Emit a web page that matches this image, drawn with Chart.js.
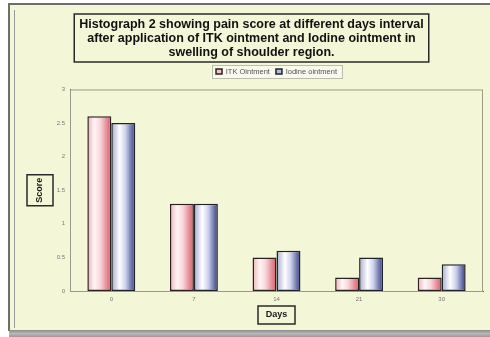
<!DOCTYPE html>
<html>
<head>
<meta charset="utf-8">
<script src="https://cdn.jsdelivr.net/npm/chart.js@4/dist/chart.umd.min.js"></script>
<style>
  html, body { margin: 0; padding: 0; background: #ffffff; }
  #wrap { width: 490px; height: 337px; position: relative; }
  canvas { display: block; }
</style>
</head>
<body>
<div id="wrap"><canvas id="chart" width="490" height="337"></canvas></div>
<script>
// Pain score by day after treatment
const days = ['0', '7', '14', '21', '30'];
const itkScores = [2.6, 1.3, 0.5, 0.2, 0.2];
const iodineScores = [2.5, 1.3, 0.6, 0.5, 0.4];
const seriesNames = ['ITK Ointment', 'Iodine ointment'];
const titleLines = [
  'Histograph 2 showing pain score at different days interval',
  'after application of ITK ointment and Iodine ointment in',
  'swelling of shoulder region.'
];
const yMin = 0, yMax = 3, yStep = 0.5;
const xTitle = 'Days';
const yTitle = 'Score';

const PAPER = '#f4f6d8';
const FONT = "'Liberation Sans', Arial, sans-serif";
Chart.defaults.font.family = FONT;

// vertical centre of the legend row (items sit at top + padding + half item height)
function legendRowCentre(lg) {
  const lab = lg.options.labels;
  const itemH = Math.max(lab.boxHeight, lab.font.size);
  return lg.top + lab.padding + itemH / 2;
}

// Page frame, paper colour and the legend's light panel
const framePlugin = {
  id: 'frame',
  beforeDraw(chart) {
    const { ctx, width, height } = chart;
    ctx.save();
    ctx.fillStyle = '#ffffff';
    ctx.fillRect(0, 0, width, height);
    ctx.fillStyle = PAPER;
    ctx.fillRect(9, 4, width - 9, height - 10);
    // outer frame
    ctx.strokeStyle = '#6e6e6e';
    ctx.lineWidth = 2;
    ctx.beginPath();
    ctx.moveTo(width, 4);
    ctx.lineTo(9, 4);
    ctx.lineTo(9, height - 6);
    ctx.stroke();
    ctx.strokeStyle = '#9a9a9a';
    ctx.lineWidth = 1;
    ctx.beginPath();
    ctx.moveTo(14.5, 10);
    ctx.lineTo(14.5, height - 9);
    ctx.stroke();
    // bottom band
    const g = ctx.createLinearGradient(0, height - 7, 0, height);
    g.addColorStop(0, '#8a8a8a');
    g.addColorStop(0.5, '#b8b8b8');
    g.addColorStop(1, '#9a9a9a');
    ctx.fillStyle = g;
    ctx.fillRect(9, height - 7, width - 9, 7);

    // legend panel
    const lg = chart.legend;
    if (lg) {
      const lcx = (lg.left + lg.right) / 2;
      const lcy = legendRowCentre(lg);
      const lw = 130, lh = 13;
      ctx.fillStyle = '#f9f9ee';
      ctx.fillRect(lcx - lw / 2, lcy - lh / 2, lw, lh);
      ctx.strokeStyle = '#bcbcac';
      ctx.lineWidth = 1;
      ctx.strokeRect(Math.round(lcx - lw / 2) + 0.5, Math.round(lcy - lh / 2) + 0.5, lw, lh);
    }
    ctx.restore();
  }
};

// Centre the legend over the plot and lift it under the title box
const placePlugin = {
  id: 'place',
  afterLayout(chart) {
    const lg = chart.legend;
    if (lg) {
      const ca = chart.chartArea;
      const dx = (ca.left + ca.right) / 2 - (lg.left + lg.right) / 2;
      lg.left += dx;
      lg.right += dx;
      const dy = 71.5 - legendRowCentre(lg);
      lg.top += dy;
      lg.bottom += dy;
    }
  }
};

// Glossy cylinder-like shading across each bar
const shadePlugin = {
  id: 'shade',
  beforeDatasetsDraw(chart) {
    const { ctx } = chart;
    const ca = chart.chartArea;
    ctx.save();
    ctx.strokeStyle = '#9a9a8a';
    ctx.lineWidth = 1;
    ctx.strokeRect(ca.left + 0.5, ca.top + 0.5, ca.right - ca.left - 1, ca.bottom - ca.top);
    ctx.restore();
    const stops = [
      [[0, '#eeb0b8'], [0.3, '#fff6f6'], [0.55, '#f8d4d8'], [0.85, '#e2808c'], [1, '#cc6070']],
      [[0, '#a4aad0'], [0.35, '#ffffff'], [0.6, '#ccd0ea'], [0.85, '#6a72aa'], [1, '#3c4282']]
    ];
    chart.data.datasets.forEach((ds, i) => {
      const meta = chart.getDatasetMeta(i);
      meta.data.forEach(bar => {
        const x0 = bar.x - bar.width / 2, x1 = bar.x + bar.width / 2;
        const g = ctx.createLinearGradient(x0, 0, x1, 0);
        stops[i].forEach(s => g.addColorStop(s[0], s[1]));
        bar.options = Object.assign({}, bar.options, { backgroundColor: g });
      });
    });
  }
};

// Outlined boxes round the title and the axis titles
const boxPlugin = {
  id: 'boxes',
  afterDraw(chart) {
    const { ctx } = chart;
    ctx.save();
    ctx.strokeStyle = '#2a2a2a';
    ctx.lineWidth = 1.5;
    // main title
    const tb = chart.titleBlock;
    const topt = chart.options.plugins.title;
    ctx.font = `bold ${topt.font.size}px ${FONT}`;
    let w = 0;
    titleLines.forEach(t => { w = Math.max(w, ctx.measureText(t).width); });
    const tcx = (tb.left + tb.right) / 2;
    const lh = topt.font.size * topt.font.lineHeight;
    const ttop = tb.top + topt.padding.top;
    ctx.strokeRect(tcx - w / 2 - 5, ttop - 4, w + 10, lh * titleLines.length + 6);

    // axis title boxes
    const ca = chart.chartArea;
    const xs = chart.scales.x, ys = chart.scales.y;
    const xt = xs.options.title;
    const xcy = xs.bottom - xt.padding.bottom - xt.font.size * 1.2 / 2;
    const xcx = (ca.left + ca.right) / 2;
    ctx.strokeRect(xcx - 18.5, xcy - 9, 37, 18);
    const yt = ys.options.title;
    const ycx = ys.left + yt.padding.top + yt.font.size * 1.2 / 2;
    const ycy = (ca.top + ca.bottom) / 2;
    ctx.strokeRect(ycx - 13, ycy - 15.5, 26, 31);
    ctx.restore();
  }
};

new Chart(document.getElementById('chart'), {
  type: 'bar',
  data: {
    labels: days,
    datasets: [
      {
        label: seriesNames[0],
        data: itkScores,
        backgroundColor: '#f2c4ca',
        borderColor: '#2a2222',
        borderWidth: 1.5,
        borderSkipped: false
      },
      {
        label: seriesNames[1],
        data: iodineScores,
        backgroundColor: '#b8bee2',
        borderColor: '#22222a',
        borderWidth: 1.5,
        borderSkipped: false
      }
    ]
  },
  options: {
    responsive: false,
    animation: false,
    devicePixelRatio: 1,
    categoryPercentage: 0.58,
    barPercentage: 1.0,
    layout: { padding: { left: 20, right: 7, top: 0, bottom: 0 } },
    scales: {
      x: {
        grid: { display: false, drawTicks: false },
        border: { display: true, color: '#555', width: 1 },
        ticks: { font: { size: 6 }, color: '#777', padding: 5 },
        title: {
          display: true, text: xTitle, color: '#1a1a1a',
          font: { size: 9, weight: 'bold' },
          padding: { top: 0, bottom: 16.6 }
        },
        afterFit(s) { s.height = 46; }
      },
      y: {
        min: yMin, max: yMax,
        grid: { display: false, drawTicks: false },
        border: { display: true, color: '#555', width: 1 },
        ticks: {
          stepSize: yStep, font: { size: 6 }, color: '#777', padding: 5,
          callback: v => String(v)
        },
        title: {
          display: true, text: yTitle, color: '#1a1a1a',
          font: { size: 9, weight: 'bold' },
          padding: { top: 14.6, bottom: 0 }
        },
        afterFit(s) { s.width = 50; }
      }
    },
    plugins: {
      title: {
        display: true,
        text: titleLines,
        color: '#111',
        font: { size: 12.5, weight: 'bold', lineHeight: 1.12 },
        padding: { top: 18, bottom: 6 }
      },
      legend: {
        display: true,
        position: 'top',
        labels: { boxWidth: 6, boxHeight: 5, font: { size: 7.5 }, color: '#555', padding: 6 }
      },
      tooltip: { enabled: false }
    }
  },
  plugins: [framePlugin, placePlugin, shadePlugin, boxPlugin]
});
</script>
</body>
</html>
